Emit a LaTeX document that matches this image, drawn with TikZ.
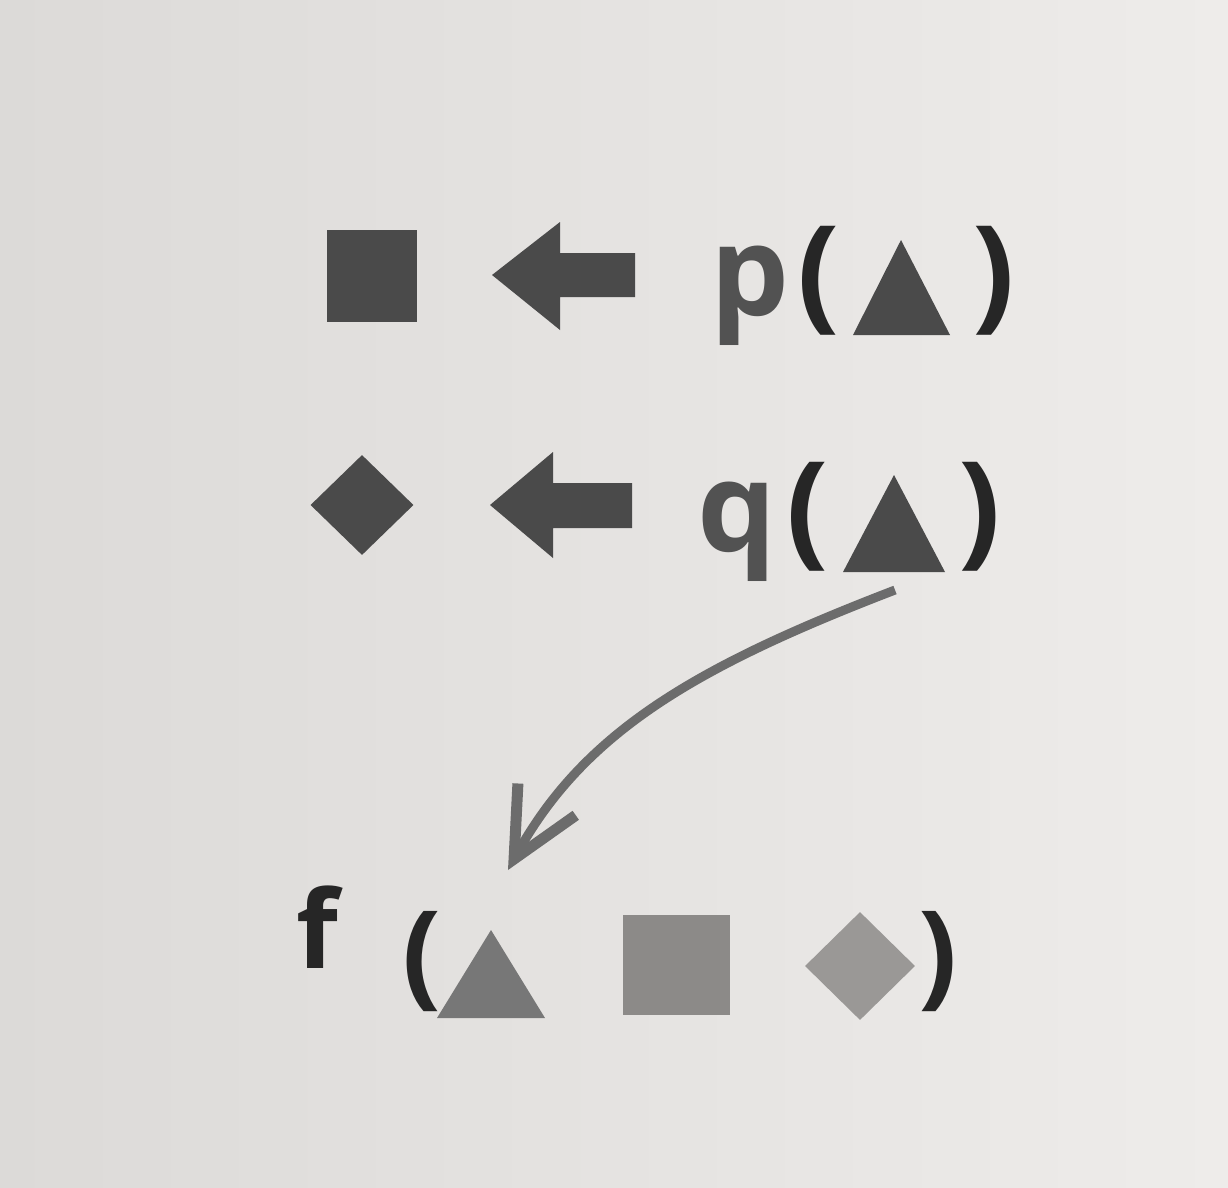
\documentclass[tikz,border=0pt]{standalone}
\usepackage{fontspec}
\setmainfont{Open Sans}
\usetikzlibrary{arrows.meta,shapes.geometric}
\definecolor{paper}{HTML}{EEECEA}
\definecolor{paperL}{HTML}{DCDAD8}
\definecolor{ink}{HTML}{4A4A4A}
\definecolor{inkT}{HTML}{525252}
\definecolor{paren}{HTML}{262626}
\definecolor{fTri}{HTML}{777777}
\definecolor{fSq}{HTML}{8C8A88}
\definecolor{fDia}{HTML}{9A9896}
\definecolor{curv}{HTML}{6C6C6C}
\tikzset{
  darkshape/.style={fill=ink, draw=none},
  letter/.style={inner sep=0pt, anchor=base west, text=inkT, font=\fontsize{125}{130}\selectfont\bfseries},
  par/.style={inner sep=0pt, anchor=base west, text=paren, font=\fontsize{125}{130}\selectfont\bfseries},
  fpar/.style={inner sep=0pt, anchor=base west, text=paren, font=\fontsize{115}{120}\selectfont\bfseries},
  curvarrow/.style={draw=curv, line width=9pt, -{Straight Barb[length=68pt,width=66pt,line width=11pt]}},
}
\begin{document}
\begin{tikzpicture}[x=1pt,y=-1pt]
\shade[left color=paperL, right color=paper] (0,0) rectangle (1228,1187);
\useasboundingbox (0,0) rectangle (1228,1187);

% row 1
\node[darkshape, rectangle, minimum width=90pt, minimum height=92pt, inner sep=0pt] (sq1) at (372,276) {};
\path[darkshape] (492,275) -- (560,222) -- (560,253) -- (635,253) -- (635,297) -- (560,297) -- (560,330) -- cycle;
\node[letter] (p) at (710,315) {p};
\node[par] (po) at (797,315) {(};
\path[darkshape] (901,240) -- (950,335) -- (853,335) -- cycle;
\coordinate (pt) at (901,300);
\node[par] (pc) at (972,315) {)};

% row 2
\node[darkshape, diamond, minimum width=103pt, minimum height=100pt, inner sep=0pt] (dia1) at (362,505) {};
\path[darkshape] (490,505) -- (553,452) -- (553,483) -- (632,483) -- (632,528) -- (553,528) -- (553,558) -- cycle;
\node[letter] (q) at (697,551) {q};
\node[par] (qo) at (786,551) {(};
\path[darkshape] (894,475) -- (945,572) -- (843,572) -- cycle;
\coordinate (qtip) at (895,590);
\node[par] (qc) at (958,551) {)};

% row 3
\node[inner sep=0pt, anchor=base west, text=paren, font=\fontsize{108}{110}\selectfont\bfseries] (f) at (296,968) {f};
\node[fpar] (fo) at (402,993) {(};
\path[fill=fTri] (491,930) -- (545,1018) -- (437,1018) -- cycle;
\coordinate (ftip) at (508,870);
\node[fill=fSq, rectangle, minimum width=107pt, minimum height=100pt, inner sep=0pt] (sq2) at (676,965) {};
\node[fill=fDia, diamond, minimum width=110pt, minimum height=108pt, inner sep=0pt] (dia2) at (860,966) {};
\node[fpar] (fc) at (918,993) {)};

% curved connector
\draw[curvarrow] (qtip) .. controls (700,665) and (585,730) .. (ftip);
\end{tikzpicture}
\end{document}
